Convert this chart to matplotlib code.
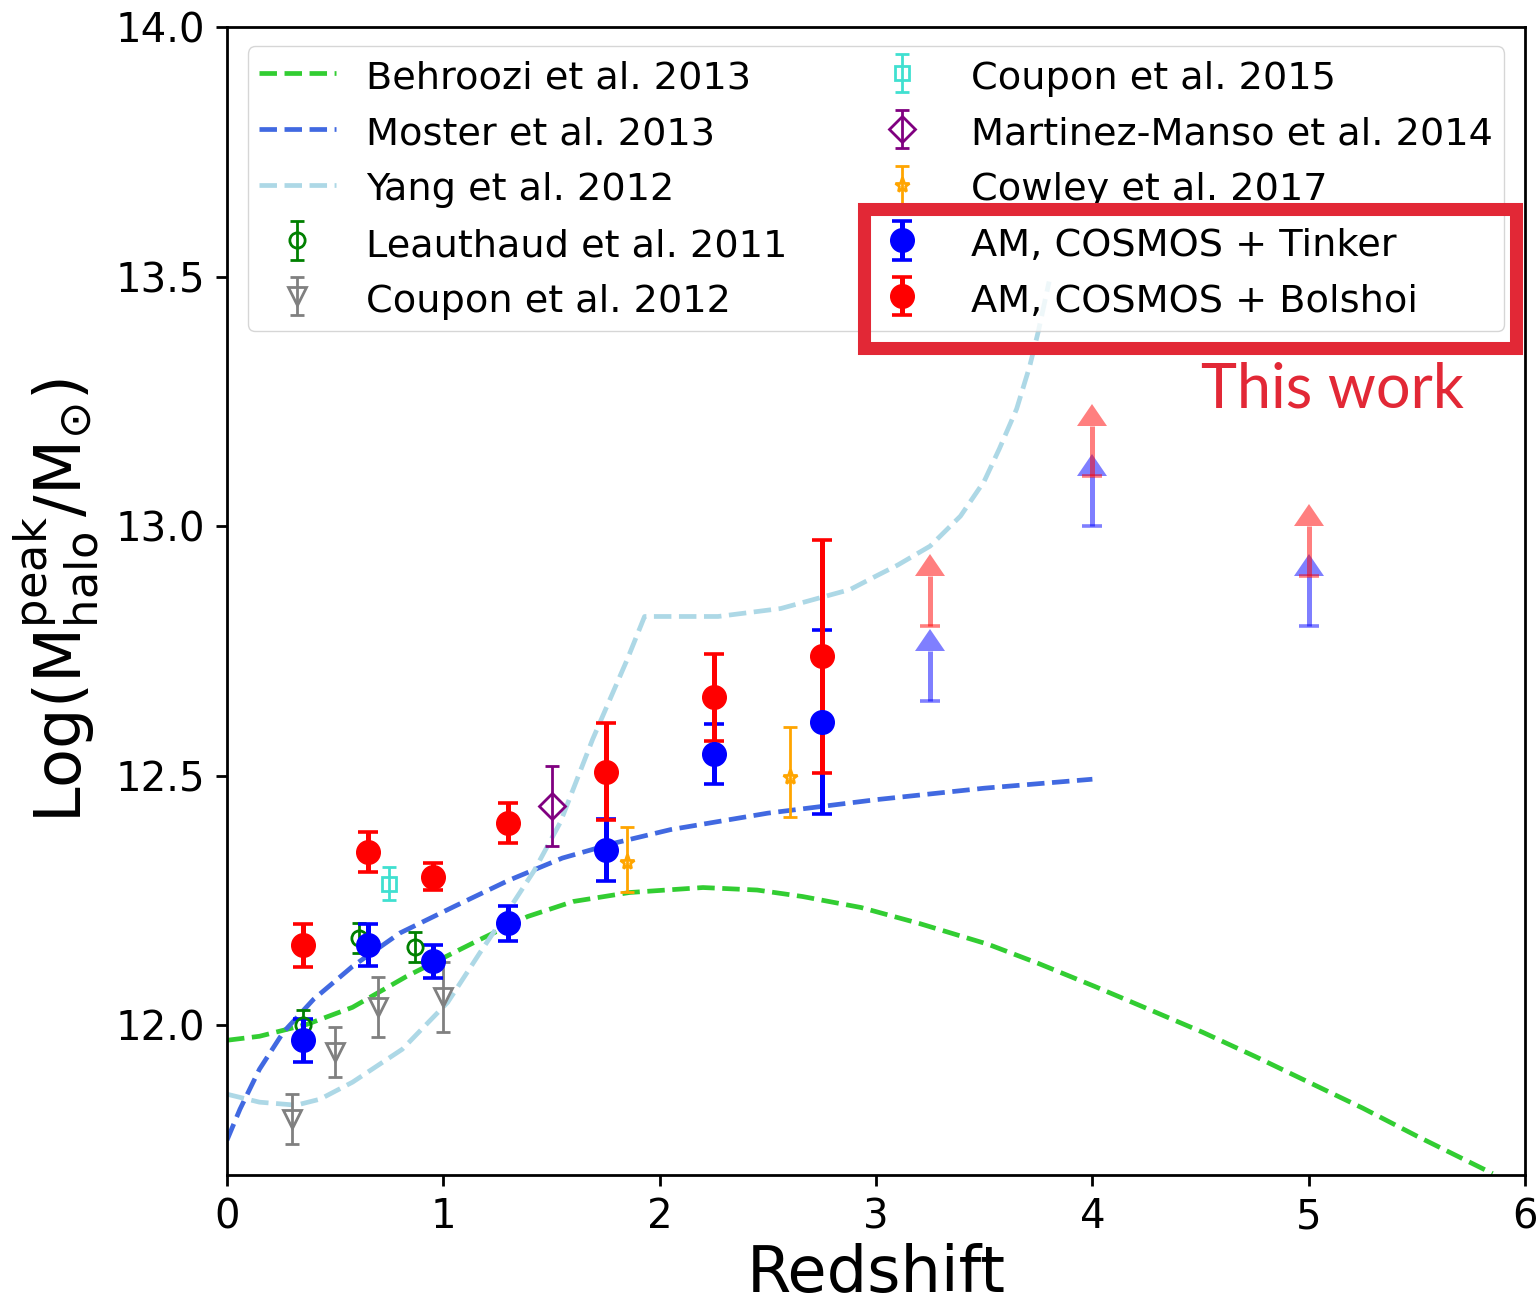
import matplotlib
matplotlib.use('Agg')
import matplotlib.pyplot as plt
from matplotlib.patches import Rectangle
import matplotlib.lines as mlines
import numpy as np

# model curves
behroozi_z = [0.0, 0.15, 0.37, 0.58, 0.83, 1.05, 1.17, 1.39, 1.6, 1.86, 2.2, 2.45, 2.66, 2.93, 3.2, 3.52, 3.75, 4.01, 4.25, 4.51, 4.75, 5.0, 5.25, 5.5, 5.85]
behroozi_m = [11.97, 11.978, 12.002, 12.036, 12.098, 12.146, 12.172, 12.218, 12.248, 12.266, 12.276, 12.271, 12.258, 12.236, 12.204, 12.162, 12.124, 12.078, 12.034, 11.986, 11.938, 11.886, 11.834, 11.778, 11.703]

moster_z = [0.0, 0.06, 0.15, 0.26, 0.4, 0.58, 0.8, 1.05, 1.3, 1.55, 1.8, 2.05, 2.5, 3.0, 3.5, 4.0]
moster_m = [11.77, 11.832, 11.912, 11.986, 12.052, 12.118, 12.185, 12.238, 12.29, 12.335, 12.366, 12.392, 12.425, 12.452, 12.475, 12.493]

yang_z = [0.0, 0.15, 0.32, 0.43, 0.58, 0.81, 1.02, 1.17, 1.3, 1.42, 1.54, 1.69, 1.85, 1.93, 2.27, 2.56, 2.88, 3.0, 3.1, 3.25, 3.39, 3.5, 3.57, 3.65, 3.71, 3.75, 3.8]
yang_m = [11.862, 11.846, 11.84, 11.852, 11.886, 11.952, 12.046, 12.146, 12.23, 12.31, 12.406, 12.573, 12.733, 12.819, 12.819, 12.835, 12.873, 12.9, 12.922, 12.96, 13.02, 13.09, 13.155, 13.235, 13.32, 13.39, 13.49]

# literature measurements
leau_z = [0.35, 0.61, 0.87]
leau_m = [12.0, 12.174, 12.156]
leau_e = [0.03, 0.03, 0.03]

coup12_z = [0.30, 0.50, 0.70, 1.0]
coup12_m = [11.812, 11.946, 12.036, 12.056]
coup12_e = [0.05, 0.05, 0.06, 0.07]

coup15_z = [0.75]
coup15_m = [12.284]
coup15_e = [0.033]

mm_z = [1.50]
mm_m = [12.44]
mm_e = [0.08]

cowley_z = [1.85, 2.60]
cowley_m = [12.328, 12.498]
cowley_lo = [0.06, 0.08]
cowley_hi = [0.07, 0.10]

# this work
am_z = [0.35, 0.65, 0.95, 1.30, 1.75, 2.25, 2.75]
tinker_m = [11.97, 12.16, 12.128, 12.204, 12.352, 12.543, 12.607]
tinker_e = [0.043, 0.042, 0.033, 0.035, 0.062, 0.06, 0.184]
bolshoi_m = [12.16, 12.348, 12.298, 12.406, 12.508, 12.657, 12.739]
bolshoi_e = [0.043, 0.04, 0.027, 0.04, 0.097, 0.087, 0.233]

lim_z = [3.25, 4.0, 5.0]
tinker_lim = [12.65, 13.0, 12.8]
bolshoi_lim = [12.80, 13.10, 12.90]
lim_err = [0.1, 0.1, 0.1]

fig = plt.figure(figsize=(15.38, 13.03), dpi=100)
ax = fig.add_axes([0.1476, 0.0982, 0.8440, 0.8811])

lw = 3.4
ax.plot(behroozi_z, behroozi_m, '--', color='limegreen', lw=lw, label='Behroozi et al. 2013')
ax.plot(moster_z, moster_m, '--', color='royalblue', lw=lw, label='Moster et al. 2013')
ax.plot(yang_z, yang_m, '--', color='lightblue', lw=lw, label='Yang et al. 2012')

lit = dict(mfc='none', mew=2, elinewidth=2, capsize=5, capthick=2)
ax.errorbar(leau_z, leau_m, yerr=leau_e, fmt='o', color='green', ms=11, label='Leauthaud et al. 2011', **lit)
ax.errorbar(coup12_z, coup12_m, yerr=coup12_e, fmt='v', color='grey', ms=13, label='Coupon et al. 2012', **lit)
ax.errorbar(coup15_z, coup15_m, yerr=coup15_e, fmt='s', color='turquoise', ms=10, label='Coupon et al. 2015', **lit)
ax.errorbar(mm_z, mm_m, yerr=mm_e, fmt='D', color='purple', ms=13, label='Martinez-Manso et al. 2014', **lit)
ax.errorbar(cowley_z, cowley_m, yerr=[cowley_lo, cowley_hi], fmt='*', color='orange', ms=11, label='Cowley et al. 2017', **lit)

am = dict(ms=17, elinewidth=3.6, capsize=7.2, capthick=2.6)
ax.errorbar(am_z, tinker_m, yerr=tinker_e, fmt='o', color='blue', label='AM, COSMOS + Tinker', **am)
ax.errorbar(am_z, bolshoi_m, yerr=bolshoi_e, fmt='o', color='red', label='AM, COSMOS + Bolshoi', **am)

# lower limits at high redshift
for vals, col in [(tinker_lim, 'blue'), (bolshoi_lim, 'red')]:
    eb = ax.errorbar(lim_z, vals, yerr=lim_err, lolims=True, fmt='none', ecolor=col, alpha=0.5,
                     elinewidth=3.6, capsize=7.5, capthick=2.6)
    for cl in eb[1]:
        if cl.get_marker() == mlines.CARETUPBASE:
            cl.set_markeredgewidth(0)
            cl.set_markerfacecolor(col)
            cl.set_markersize(21)

ax.set_xlim(0, 6)
ax.set_ylim(11.7, 14.0)
ax.set_yticks([12.0, 12.5, 13.0, 13.5, 14.0])
ax.set_xlabel('Redshift', fontsize=46, labelpad=4)
ax.set_ylabel(r'Log(M$_{\rm halo}^{\rm peak}$/M$_{\odot}$)', fontsize=46, labelpad=10)
ax.tick_params(labelsize=29, width=2, length=8, pad=8)
for s in ax.spines.values():
    s.set_linewidth(2)

ax.legend(ncol=2, fontsize=27.5, loc='upper center', labelspacing=0.43, handleheight=1.1,
          borderpad=0.3)

# "This work" highlight
fig.patches.append(Rectangle((863.5 / 1538, 1 - 347.5 / 1303), 652 / 1538, 138 / 1303,
                             transform=fig.transFigure, fill=False, edgecolor='#E22836',
                             lw=9.4, joinstyle='miter', zorder=10))
fig.text(1332 / 1538, 1 - 407 / 1303, 'This work', color='#E22836', fontsize=44,
         family='Lato', ha='center', va='baseline')

fig.savefig('out.png', dpi=100)
